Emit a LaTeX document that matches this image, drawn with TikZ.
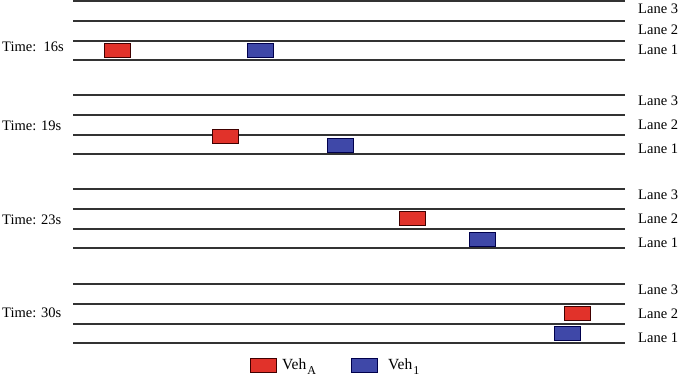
\documentclass[tikz,border=0pt]{standalone}
\usepackage{fontspec}
\setmainfont{Liberation Serif}
\begin{document}
\begin{tikzpicture}[x=1pt,y=-1pt,
  lane/.style={draw=black!80, line width=1.2pt},
  vehA/.style={draw=black!75!red, fill={rgb,255:red,225;green,50;blue,42}, line width=0.6pt, minimum width=26pt, minimum height=14pt, inner sep=0pt},
  veh1/.style={draw=black!70!blue, fill={rgb,255:red,63;green,72;blue,168}, line width=0.6pt, minimum width=26pt, minimum height=14pt, inner sep=0pt},
  lbl/.style={font=\fontsize{14.5}{16}\selectfont, inner sep=0pt, anchor=west},
  tlbl/.style={font=\fontsize{14.5}{16}\selectfont, inner sep=0pt, anchor=west},
  legt/.style={font=\fontsize{15.5}{17}\selectfont, inner sep=0pt, anchor=west}]
\useasboundingbox (0,0) rectangle (679,381);
% group 1
\foreach \y in {1,21,41,60} \draw[lane] (73,\y) -- (625,\y);
\node[lbl] (g1l3) at (638,9) {Lane 3};
\node[lbl] (g1l2) at (638,30) {Lane 2};
\node[lbl] (g1l1) at (638,50) {Lane 1};
\node[tlbl] (t1) at (2,47) {Time:\ \ 16s};
\node[vehA] (a1) at (117.5,50) {};
\node[veh1] (b1) at (260,50) {};
% group 2
\foreach \y in {95,115,135,154} \draw[lane] (73,\y) -- (625,\y);
\node[lbl] (g2l3) at (638,101) {Lane 3};
\node[lbl] (g2l2) at (638,125) {Lane 2};
\node[lbl] (g2l1) at (638,149) {Lane 1};
\node[tlbl] (t2) at (2,126) {Time: 19s};
\node[vehA] (a2) at (225.5,136.5) {};
\node[veh1] (b2) at (340.5,145) {};
% group 3
\foreach \y in {189,209,229,248} \draw[lane] (73,\y) -- (625,\y);
\node[lbl] (g3l3) at (638,195) {Lane 3};
\node[lbl] (g3l2) at (638,219) {Lane 2};
\node[lbl] (g3l1) at (638,243) {Lane 1};
\node[tlbl] (t3) at (2,220) {Time: 23s};
\node[vehA] (a3) at (412,218.5) {};
\node[veh1] (b3) at (482,239) {};
% group 4
\foreach \y in {284,304,324,343} \draw[lane] (73,\y) -- (625,\y);
\node[lbl] (g4l3) at (638,290) {Lane 3};
\node[lbl] (g4l2) at (638,314) {Lane 2};
\node[lbl] (g4l1) at (638,338) {Lane 1};
\node[tlbl] (t4) at (2,313) {Time: 30s};
\node[vehA] (a4) at (577,313) {};
\node[veh1] (b4) at (567,333) {};
% legend
\node[vehA] (la) at (263.5,365.5) {};
\node[legt] (lat) at (282,367) {Veh\kern1pt\raisebox{-5pt}{\fontsize{12}{14}\selectfont A}};
\node[veh1] (lb) at (364.5,365.5) {};
\node[legt] (lbt) at (388,367) {Veh\kern1pt\raisebox{-5pt}{\fontsize{12}{14}\selectfont 1}};
\end{tikzpicture}
\end{document}
